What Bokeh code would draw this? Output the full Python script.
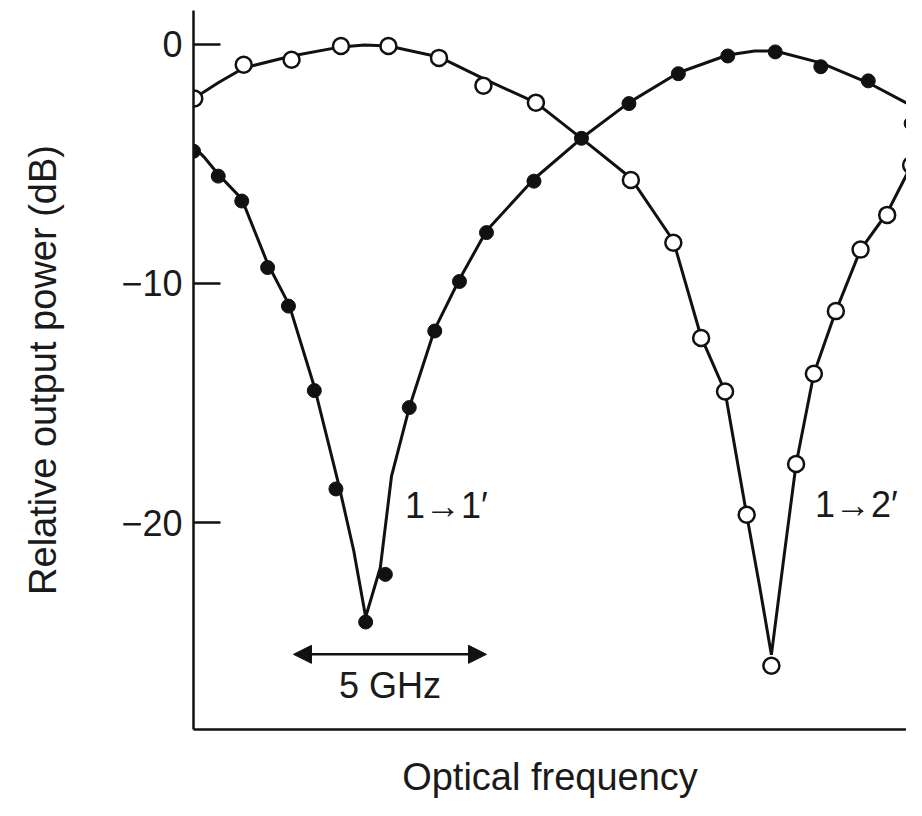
from bokeh.plotting import figure
from bokeh.models import Range1d, Arrow, NormalHead, FixedTicker
from bokeh.embed import file_html
from bokeh.resources import INLINE
from bokeh.core.properties import value

# ---- data (x: optical frequency offset in GHz, y: relative output power in dB) ----
# measured points, port 1 -> 1' (filled dots)
p11_x = [0.08, 0.72, 1.33, 2.00, 2.54, 3.21, 3.77, 4.54, 5.05, 5.67, 6.33, 6.97,
         7.67, 8.90, 10.13, 11.36, 12.64, 13.92, 15.15, 16.33, 17.56, 18.67]
p11_y = [-4.48, -5.52, -6.56, -9.34, -10.95, -14.48, -18.59, -24.15, -22.16, -15.19,
         -11.99, -9.92, -7.88, -5.73, -3.94, -2.49, -1.24, -0.50, -0.33, -0.95, -1.54, -3.32]

# measured points, port 1 -> 2' (open circles)
p12_x = [0.10, 1.38, 2.62, 3.90, 5.13, 6.44, 7.59, 8.95, 11.41, 12.51, 13.23, 13.85,
         14.41, 15.05, 15.69, 16.15, 16.72, 17.36, 18.05, 18.67]
p12_y = [-2.28, -0.87, -0.66, -0.08, -0.08, -0.58, -1.74, -2.45, -5.68, -8.30, -12.28,
         -14.52, -19.67, -25.98, -17.55, -13.78, -11.16, -8.59, -7.14, -5.06]

# fitted curve, 1 -> 1'
c11_x = [0.0, 0.38, 0.72, 1.33, 2.00, 2.56, 3.21, 3.85, 4.23, 4.54, 4.92, 5.21, 5.67,
         6.33, 6.97, 7.67, 8.90, 10.13, 11.36, 12.64, 13.92, 14.62, 15.15, 16.33, 17.56, 18.67]
c11_y = [-4.15, -4.77, -5.44, -6.47, -9.17, -10.91, -14.32, -18.46, -21.16, -23.94, -21.87,
         -18.05, -15.19, -11.91, -9.83, -7.80, -5.64, -3.94, -2.45, -1.20, -0.46, -0.29,
         -0.29, -0.79, -1.62, -2.57]

# fitted curve, 1 -> 2'
c12_x = [0.0, 0.72, 1.38, 2.62, 3.90, 4.51, 5.13, 6.44, 7.59, 8.95, 10.13, 11.41, 12.51,
         13.23, 13.85, 14.41, 14.74, 15.05, 15.38, 15.69, 16.15, 16.72, 17.36, 18.05, 18.77]
c12_y = [-2.37, -1.62, -1.00, -0.50, -0.12, -0.04, -0.08, -0.54, -1.45, -2.45, -3.94,
         -5.60, -8.22, -12.24, -14.52, -19.67, -22.61, -25.52, -21.37, -17.55, -13.78,
         -11.16, -8.59, -7.05, -4.77]

y_ticks = [0, -10, -20]
y_tick_labels = {0: "0", -10: "\u221210", -20: "\u221220"}

curve_labels = ["1\u21921\u2032", "1\u21922\u2032"]
curve_label_x = [5.56, 16.18]
curve_label_y = [-19.3, -19.25]

scale_text = ["5 GHz"]
scale_start = 2.67
scale_width = 5.0
scale_y = -25.5
scale_text_y = [-26.8]

FONT = "Liberation Sans"

p = figure(width=906, height=800,
           x_range=Range1d(0.08, 18.55), y_range=Range1d(-28.64, 1.40),
           output_backend="svg", toolbar_location=None,
           min_border_left=193, min_border_right=0, min_border_top=10, min_border_bottom=63)

p.background_fill_color = "white"
p.border_fill_color = "white"
p.outline_line_color = None
p.xgrid.visible = False
p.ygrid.visible = False

# axes
p.xaxis.ticker = FixedTicker(ticks=[])
p.xaxis.major_tick_out = 0
p.xaxis.major_tick_in = 0
p.xaxis.minor_tick_out = 0
p.xaxis.major_label_text_font_size = "0px"
p.xaxis.axis_label = "Optical frequency"
p.xaxis.axis_label_text_font = FONT
p.xaxis.axis_label_text_font_size = "38px"
p.xaxis.axis_label_text_font_style = "normal"
p.xaxis.axis_label_text_color = "#1a1a1a"
p.xaxis.axis_label_standoff = 26
p.xaxis.axis_line_width = 2.5
p.xaxis.axis_line_color = "#111111"

p.yaxis.ticker = FixedTicker(ticks=y_ticks)
p.yaxis.major_label_overrides = y_tick_labels
p.yaxis.major_tick_in = 27
p.yaxis.major_tick_out = 0
p.yaxis.minor_tick_in = 0
p.yaxis.minor_tick_out = 0
p.yaxis.major_tick_line_width = 2.5
p.yaxis.major_tick_line_color = "#111111"
p.yaxis.axis_line_width = 2.5
p.yaxis.axis_line_color = "#111111"
p.yaxis.major_label_standoff = 11
p.yaxis.major_label_text_font = FONT
p.yaxis.major_label_text_font_size = "36px"
p.yaxis.major_label_text_color = "#1a1a1a"
p.yaxis.axis_label = "Relative output power (dB)"
p.yaxis.axis_label_text_font = FONT
p.yaxis.axis_label_text_font_size = "38px"
p.yaxis.axis_label_text_font_style = "normal"
p.yaxis.axis_label_text_color = "#1a1a1a"
p.yaxis.axis_label_standoff = 54

# curves
p.line(c11_x, c11_y, line_color="#111111", line_width=3)
p.line(c12_x, c12_y, line_color="#111111", line_width=3)

# points
p.scatter(p12_x, p12_y, marker="circle", size=16, fill_color="white",
          line_color="#111111", line_width=2.5)
p.scatter(p11_x, p11_y, marker="circle", size=14, fill_color="#111111",
          line_color="#111111", line_width=1)

# annotations
p.text(x=curve_label_x, y=curve_label_y, text=curve_labels, text_font=value(FONT),
       text_font_size="36px", text_align="left", text_baseline="middle",
       text_color="#1a1a1a")

p.add_layout(Arrow(start=NormalHead(size=18, fill_color="#111111", line_color="#111111"),
                   end=NormalHead(size=18, fill_color="#111111", line_color="#111111"),
                   x_start=scale_start, y_start=scale_y,
                   x_end=scale_start + scale_width, y_end=scale_y,
                   line_width=2.5, line_color="#111111"))
p.text(x=[scale_start + scale_width / 2], y=scale_text_y, text=scale_text,
       text_font=value(FONT), text_font_size="36px", text_align="center",
       text_baseline="middle", text_color="#1a1a1a")

open("out.html", "w").write(file_html(p, INLINE))
